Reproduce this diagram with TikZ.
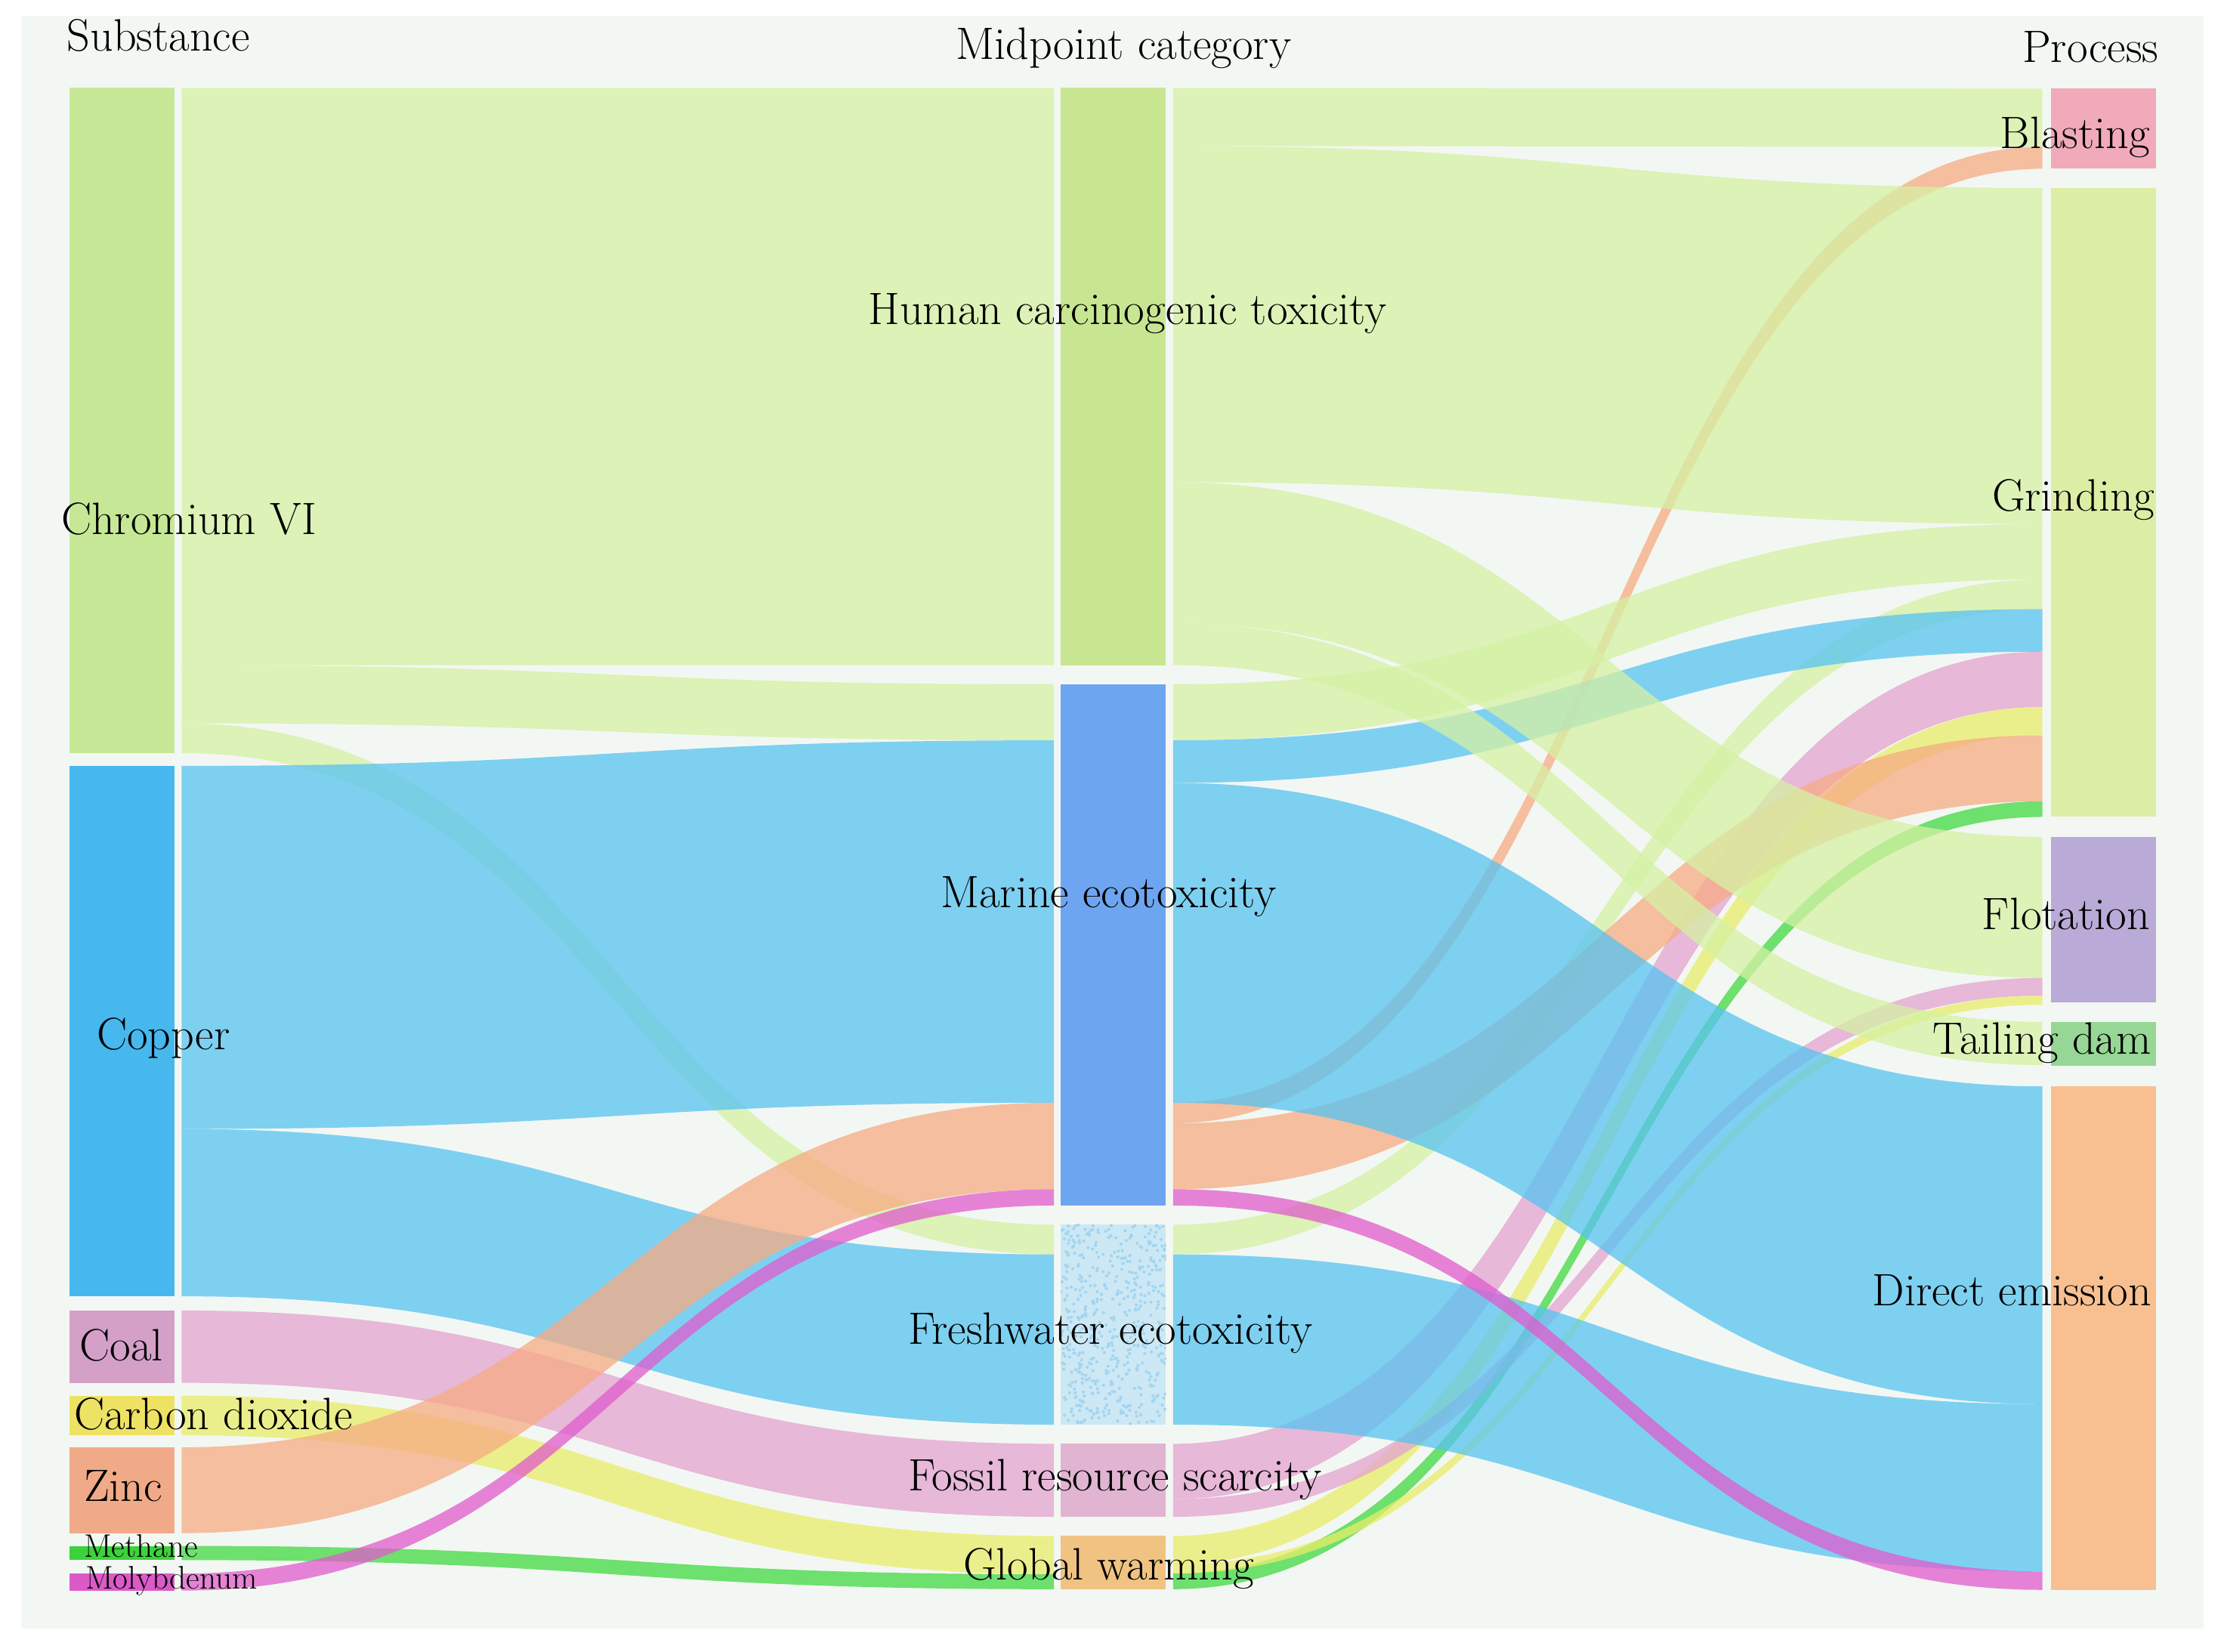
\documentclass[tikz,border=0pt]{standalone}
\definecolor{bgc}{HTML}{F3F7F3}
\definecolor{crL}{HTML}{D5F1A3}
\definecolor{cuL}{HTML}{57C3F1}
\definecolor{coalL}{HTML}{E3A3CF}
\definecolor{co2L}{HTML}{E9ED69}
\definecolor{znL}{HTML}{F7AB84}
\definecolor{ch4L}{HTML}{41D941}
\definecolor{moL}{HTML}{E15BCD}
\definecolor{crN}{HTML}{C6E896}
\definecolor{cuN}{HTML}{46B8EE}
\definecolor{coalN}{HTML}{D4A0C8}
\definecolor{co2N}{HTML}{EEE264}
\definecolor{znN}{HTML}{F0AA87}
\definecolor{ch4N}{HTML}{3CD23C}
\definecolor{moN}{HTML}{DC5AC8}
\definecolor{hctN}{HTML}{C8E691}
\definecolor{marN}{HTML}{6EA5F0}
\definecolor{freN}{HTML}{CCE8F4}
\definecolor{freD}{HTML}{A2D5F0}
\definecolor{fosN}{HTML}{E1B4D2}
\definecolor{gwN}{HTML}{F0C382}
\definecolor{blaN}{HTML}{F0AAB9}
\definecolor{griN}{HTML}{DCEEA5}
\definecolor{floN}{HTML}{B9AAD7}
\definecolor{taiN}{HTML}{96D796}
\definecolor{dirN}{HTML}{F8C091}
% band between two columns: #1 colour, #2 x0, #3 x1, #4 top0, #5 bottom0, #6 top1, #7 bottom1
\newcommand{\sankeyband}[7]{%
  \pgfmathsetmacro{\sbmid}{(#2+#3)/2}%
  \fill[band,#1] (#2,#4) .. controls (\sbmid,#4) and (\sbmid,#6) .. (#3,#6)
     -- (#3,#7) .. controls (\sbmid,#7) and (\sbmid,#5) .. (#2,#5) -- cycle;}
\newcommand{\leftband}[5]{\sankeyband{#1}{128}{743}{#2}{#3}{#4}{#5}}
\newcommand{\rightband}[5]{\sankeyband{#1}{827}{1440}{#2}{#3}{#4}{#5}}
\begin{document}
\begin{tikzpicture}[x=1pt,y=-1pt,
  band/.style={fill opacity=0.75},
  bar/.style={draw=none,inner sep=0pt,minimum width=74pt},
  lbl/.style={inner sep=0pt,text=black,font=\fontsize{32}{37}\selectfont},
  small/.style={inner sep=0pt,text=black,font=\fontsize{23}{26}\selectfont}]
\useasboundingbox (0,0) rectangle (1568,1164.3);
\fill[white] (0,0) rectangle (1568,1164.3);
\fill[bgc] (15,11) rectangle (1553.5,1148.5);

% ---- substance -> midpoint bands
\leftband{crL}{62}{469}{62}{469}
\leftband{crL}{469}{510}{482.5}{522}
\leftband{crL}{510}{531}{863.5}{884.5}
\leftband{cuL}{540}{796}{522}{777.5}
\leftband{cuL}{796}{914}{884.5}{1004.5}
\leftband{coalL}{924}{975}{1018}{1069.5}
\leftband{co2L}{984}{1012}{1083}{1110}
\leftband{znL}{1020.5}{1081}{777.5}{838.5}
\leftband{ch4L}{1090}{1100}{1110}{1120.5}
\leftband{moL}{1109.5}{1121.5}{838.5}{850}

% ---- midpoint -> process bands
\rightband{crL}{62}{103}{62.5}{103.5}
\rightband{znL}{777.5}{792}{103.5}{119}
\rightband{crL}{103}{340}{132.5}{369.5}
\rightband{crL}{482.5}{522}{369.5}{408.5}
\rightband{crL}{863.5}{884.5}{408.5}{429.5}
\rightband{cuL}{522}{552}{429.5}{459.5}
\rightband{coalL}{1018}{1057}{459.5}{498.5}
\rightband{co2L}{1083}{1103}{498.5}{518.5}
\rightband{znL}{792}{838.5}{518.5}{565}
\rightband{ch4L}{1109.5}{1120.5}{565}{576}
\rightband{crL}{340}{439.5}{590}{689.5}
\rightband{coalL}{1057}{1069.5}{689.5}{702}
\rightband{co2L}{1103}{1109.5}{702}{708.5}
\rightband{crL}{439.5}{469}{720.5}{751}
\rightband{cuL}{552}{777.5}{766}{990}
\rightband{cuL}{884.5}{1004.5}{990}{1108}
\rightband{moL}{838.5}{850}{1108}{1121}

% ---- substance nodes
\node[bar,fill=crN,minimum height=469pt] (cr) at (86,296.5) {};
\node[bar,fill=cuN,minimum height=374pt] (cu) at (86,727) {};
\node[bar,fill=coalN,minimum height=51pt] (coal) at (86,949.5) {};
\node[bar,fill=co2N,minimum height=28pt] (co2) at (86,998) {};
\node[bar,fill=znN,minimum height=60.5pt] (zn) at (86,1050.75) {};
\node[bar,fill=ch4N,minimum height=10pt] (ch4) at (86,1095) {};
\node[bar,fill=moN,minimum height=12pt] (mo) at (86,1115.5) {};
% ---- midpoint nodes
\node[bar,fill=hctN,minimum height=407pt] (hct) at (785,265.5) {};
\node[bar,fill=marN,minimum height=367.5pt] (mar) at (785,666.25) {};
\node[bar,fill=freN,minimum height=141pt] (fre) at (785,934) {};
\node[bar,fill=fosN,minimum height=51.5pt] (fos) at (785,1043.75) {};
\node[bar,fill=gwN,minimum height=37.5pt] (gw) at (785,1101.75) {};
% speckled texture of the freshwater bar
\pgfmathsetseed{4242}
\begin{scope}
  \clip (fre.south west) rectangle (fre.north east);
  \foreach \i in {1,...,520} {
    \pgfmathsetmacro{\px}{748+74*rnd}
    \pgfmathsetmacro{\py}{863.5+141*rnd}
    \fill[freD] (\px,\py) circle[radius=1.1pt];
  }
\end{scope}
% ---- process nodes
\node[bar,fill=blaN,minimum height=56.5pt] (bla) at (1483,90.75) {};
\node[bar,fill=griN,minimum height=443pt] (gri) at (1483,354) {};
\node[bar,fill=floN,minimum height=117pt] (flo) at (1483,648.5) {};
\node[bar,fill=taiN,minimum height=31pt] (tai) at (1483,736) {};
\node[bar,fill=dirN,minimum height=355pt] (dir) at (1483,943.5) {};

% ---- headers
\node[lbl,anchor=base west] (hsub) at (47,36) {Substance};
\node[lbl,anchor=base west] (hmid) at (674,42) {Midpoint category};
\node[lbl,anchor=base east] (hpro) at (1522,44) {Process};
% ---- substance labels
\node[lbl,anchor=base west] (tcr) at (43,377) {Chromium VI};
\node[lbl,anchor=base west] (tcu) at (68,740) {Copper};
\node[lbl,anchor=base west] (tcoal) at (56,959.5) {Coal};
\node[lbl,anchor=base west] (tco2) at (52,1008) {Carbon dioxide};
\node[lbl,anchor=base west] (tzn) at (59,1058.5) {Zinc};
\node[small,anchor=base west] (tch4) at (59,1098) {Methane};
\node[small,anchor=base west] (tmo) at (60,1120.5) {Molybdenum};
% ---- midpoint labels
\node[lbl,anchor=base west] (thct) at (612,229) {Human carcinogenic toxicity};
\node[lbl,anchor=base west] (tmar) at (663,640) {Marine ecotoxicity};
\node[lbl,anchor=base west] (tfre) at (640,948) {Freshwater ecotoxicity};
\node[lbl,anchor=base west] (tfos) at (640,1051) {Fossil resource scarcity};
\node[lbl,anchor=base west] (tgw) at (679,1114) {Global warming};
% ---- process labels
\node[lbl,anchor=base east] (tbla) at (1516,104.5) {Blasting};
\node[lbl,anchor=base east] (tgri) at (1519,360.5) {Grinding};
\node[lbl,anchor=base east] (tflo) at (1516,655.5) {Flotation};
\node[lbl,anchor=base east] (ttai) at (1517,743.5) {Tailing dam};
\node[lbl,anchor=base east] (tdir) at (1517,920.5) {Direct emission};
\end{tikzpicture}
\end{document}
